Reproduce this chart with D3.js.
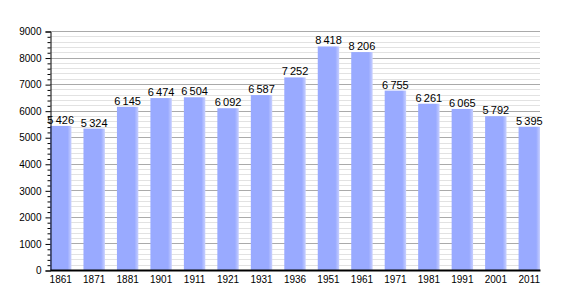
<!DOCTYPE html>
<html>
<head>
<meta charset="utf-8">
<script src="https://cdn.jsdelivr.net/npm/d3@7"></script>
<style>
body { margin: 0; background: #fff; }
text { font-family: "Liberation Sans", Arial, sans-serif; }
</style>
</head>
<body>
<script>
var years = ["1861","1871","1881","1901","1911","1921","1931","1936","1951","1961","1971","1981","1991","2001","2011"];
var population = [5426,5324,6145,6474,6504,6092,6587,7252,8418,8206,6755,6261,6065,5792,5395];
var yTicks = [0,1000,2000,3000,4000,5000,6000,7000,8000,9000];

var width = 570, height = 300;
var plotL = 50, plotR = 540, plotT = 31, plotB = 270;

var svg = d3.select("body").append("svg")
    .attr("width", width)
    .attr("height", height);

var x = d3.scaleBand().domain(years).range([plotL, plotR]).paddingInner(0.36).paddingOuter(0);
var y = d3.scaleLinear().domain([0, 9000]).range([plotB, plotT]);

// soft right edge on bars
var grad = svg.append("defs").append("linearGradient").attr("id", "barg");
grad.append("stop").attr("offset", "0%").attr("stop-color", "#99aaff");
grad.append("stop").attr("offset", "82%").attr("stop-color", "#99aaff");
grad.append("stop").attr("offset", "100%").attr("stop-color", "#c8d0ff");

// minor grid
var minor = d3.range(200, 9001, 200).filter(function(d) { return d % 1000 != 0; });
svg.selectAll(".minor").data(minor).enter().append("line")
    .attr("x1", plotL).attr("x2", plotR)
    .attr("y1", function(d) { return Math.round(y(d)) + 0.5; })
    .attr("y2", function(d) { return Math.round(y(d)) + 0.5; })
    .attr("stroke", "#e2e2e2").attr("stroke-width", 1);

svg.selectAll(".major").data(yTicks.slice(1)).enter().append("line")
    .attr("x1", plotL).attr("x2", plotR)
    .attr("y1", function(d) { return Math.round(y(d)) + 0.5; })
    .attr("y2", function(d) { return Math.round(y(d)) + 0.5; })
    .attr("stroke", "#aaaaaa").attr("stroke-width", 1);

svg.selectAll(".bar").data(population).enter().append("rect")
    .attr("x", function(d, i) { return x(years[i]); })
    .attr("y", function(d) { return y(d); })
    .attr("width", x.bandwidth())
    .attr("height", function(d) { return plotB - y(d); })
    .attr("fill", "url(#barg)");

var fmt = d3.formatLocale({ decimal: ",", thousands: "\u2009", grouping: [3], currency: ["", ""] }).format(",");

svg.selectAll(".val").data(population).enter().append("text")
    .attr("x", function(d, i) { return x(years[i]) + x.bandwidth() / 2; })
    .attr("y", function(d) { return y(d) - 2; })
    .attr("text-anchor", "middle")
    .attr("font-size", 11)
    .attr("fill", "#000")
    .text(function(d) { return fmt(d); });

// y axis
var yAxis = d3.axisLeft(y).tickValues(yTicks).tickSize(5).tickFormat(function(d) { return d; });
var ya = svg.append("g").attr("transform", "translate(" + (plotL + 0.5) + ",0.5)").call(yAxis);
ya.select(".domain").attr("stroke", "#000");
ya.selectAll("text").attr("font-size", 10).attr("font-family", "Liberation Sans, Arial, sans-serif").attr("fill", "#000").attr("x", -9);
svg.append("g").attr("transform", "translate(" + (plotL + 0.5) + ",0.5)")
    .call(d3.axisLeft(y).tickValues(minor).tickSize(3).tickFormat(""))
    .select(".domain").remove();

// x axis
var xAxis = d3.axisBottom(x).tickSize(0).tickPadding(6);
var xa = svg.append("g").attr("transform", "translate(0," + plotB + ")").call(xAxis);
xa.select(".domain").attr("stroke", "#000").attr("stroke-width", 2);
xa.selectAll("text").attr("font-size", 10).attr("font-family", "Liberation Sans, Arial, sans-serif").attr("fill", "#000");
</script>
</body>
</html>
